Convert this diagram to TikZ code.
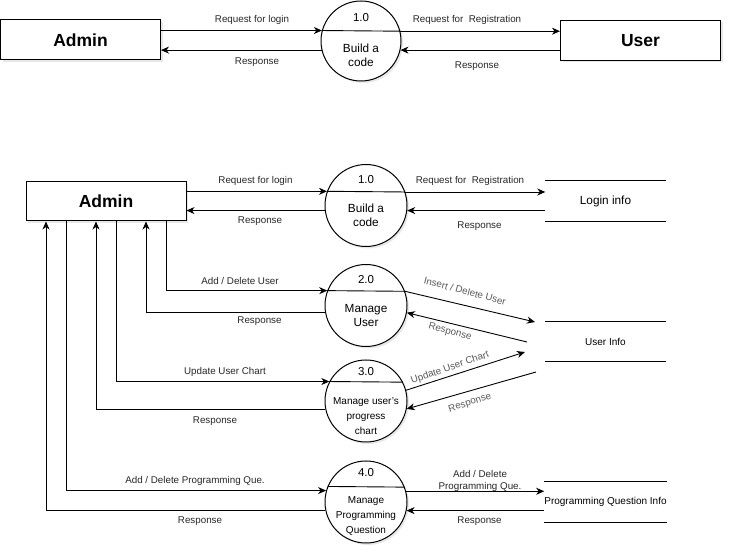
\documentclass[tikz,border=0pt]{standalone}
\usepackage{fontspec}
\setmainfont{Liberation Sans}
\usetikzlibrary{arrows.meta,shadows}
\begin{document}
\begin{tikzpicture}[x=1pt,y=-1pt,
  shd/.style={drop shadow={opacity=0.18,shadow xshift=2pt,shadow yshift=-2pt}},
  ent/.style={draw,line width=1pt,fill=white,shd,minimum width=160pt,minimum height=40pt,
    inner sep=0pt,font=\fontsize{17.5}{20}\selectfont\bfseries},
  proc/.style={draw,circle,line width=1pt,fill=white,shd,minimum size=82pt,inner sep=0pt},
  store/.style={minimum width=120pt,minimum height=40pt,inner sep=0pt},
  arr/.style={line width=0.9pt,-{Stealth[length=8pt,width=7pt,inset=2.5pt]}},
  ln/.style={line width=0.9pt},
  lbl/.style={font=\fontsize{9.8}{12}\selectfont,text=black!85,inner sep=0pt,align=center},
  rlbl/.style={font=\fontsize{9.8}{12}\selectfont,text=black!65,inner sep=0pt},
  num/.style={font=\fontsize{11.5}{14}\selectfont,inner sep=0pt},
  ptxt/.style={font=\fontsize{11.8}{14}\selectfont,inner sep=0pt,align=center},
  stxt/.style={font=\fontsize{10}{15}\selectfont,inner sep=0pt,align=center},
]
\useasboundingbox (0,0) rectangle (732,553);

% ---------------- top diagram ----------------
\node[ent] (admin1) at (80.5,40) {Admin};
\node[ent] (user1) at (640.5,40.5) {User};
\node[proc,minimum size=80pt] (p1) at (361,41) {};
\draw[ln] (p1.165.52) -- (p1.14.48);
\node[num] (p1n) at (361,18) {1.0};
\node[ptxt,font=\fontsize{11.8}{14}\selectfont] (p1t) at (361,55.5) {Build a\\code};

\draw[arr] (admin1.east |- p1.165.52) -- (p1.165.52);
\draw[arr] (p1.193) -- (admin1.east |- p1.193);
\draw[arr] (p1.14.48) -- (user1.west |- p1.14.48);
\draw[arr] (user1.west |- p1.-13) -- (p1.-13);

\node[lbl] (t1) at (252,20) {Request for login};
\node[lbl] (t2) at (257,62) {Response};
\node[lbl] (t3) at (467,20) {Request for~ Registration};
\node[lbl] (t4) at (477,66.5) {Response};

% ---------------- bottom diagram ----------------
\node[ent,minimum height=39pt] (admin2) at (106,201.5) {Admin};

\node[proc] (c1) at (366,205.5) {};
\node[proc] (c2) at (366,305.5) {};
\node[proc] (c3) at (366,401) {};
\node[proc] (c4) at (366,502) {};

\draw[ln] (c1.160.77) -- (c1.19.23);
\draw[ln] (c2.159.29) -- (c2.20.71);
\draw[ln] (c3.152.4) -- (c3.27.6);
\draw[ln] (c4.158.54) -- (c4.21.46);

\node[num] (c1n) at (366,180) {1.0};
\node[ptxt] (c1t) at (366,215.5) {Build a\\code};
\node[num] (c2n) at (366,280) {2.0};
\node[ptxt] (c2t) at (366,315.5) {Manage\\User};
\node[num] (c3n) at (366,372) {3.0};
\node[stxt] (c3t) at (366,416.5) {Manage user's\\progress\\chart};
\node[num] (c4n) at (366,473) {4.0};
\node[stxt] (c4t) at (366,516.5) {Manage\\Programming\\Question};

% data stores
\node[store] (s1) at (605.5,201) {\fontsize{11.8}{14}\selectfont Login info};
\node[store] (s2) at (605.5,341.5) {\fontsize{10}{12}\selectfont User Info};
\node[store] (s3) at (605.5,502) {\fontsize{10}{12}\selectfont Programming Question Info};
\foreach \s in {s1,s2,s3}{
  \draw[ln] (\s.north west) -- (\s.north east);
  \draw[ln] (\s.south west) -- (\s.south east);
}

% x positions of the vertical connectors under Admin
\coordinate (xa) at (166,0);
\coordinate (xb) at (146,0);
\coordinate (xc) at (116,0);
\coordinate (xd) at (96,0);
\coordinate (xe) at (66,0);
\coordinate (xf) at (46,0);

% admin <-> processes
\draw[arr] (admin2.east |- c1.160.77) -- (c1.160.77);
\draw[arr] (c1.187.7) -- (admin2.east |- c1.187.7);
\draw[arr] (admin2.south -| xa) |- (c2.159.29);
\draw[arr] (c2.189.12) -| (admin2.south -| xb);
\draw[arr] (admin2.south -| xc) |- (c3.152.4);
\draw[arr] (c3.192.68) -| (admin2.south -| xd);
\draw[arr] (admin2.south -| xe) |- (c4.164.44);
\draw[arr] (c4.192.68) -| (admin2.south -| xf);

% processes <-> stores
\draw[arr] (c1.19.23) -- (s1.west |- c1.19.23);
\draw[arr] (s1.west |- c1.-7.7) -- (c1.-7.7);

\coordinate (e2a) at (535,322);
\coordinate (e2b) at (527,342);
\draw[arr] (c2.20.71) -- (e2a);
\draw[arr] (e2b) -- (c2.-10.5);

\coordinate (e3a) at (525,352);
\coordinate (e3b) at (536,372);
\draw[arr] (c3.15.56) -- (e3a);
\draw[arr] (e3b) -- (c3.-11.25);

\draw[arr] (c4.15.56) -- (s3.west |- c4.15.56);
\draw[arr] (s3.west |- c4.-12.68) -- (c4.-12.68);

% labels left
\node[lbl] (l1) at (255.5,181) {Request for login};
\node[lbl] (l2) at (260,221) {Response};
\node[lbl] (l3) at (240,281) {Add / Delete User};
\node[lbl] (l4) at (259.5,321) {Response};
\node[lbl] (l5) at (225,372) {Update User Chart};
\node[lbl] (l6) at (215,421) {Response};
\node[lbl] (l7) at (195,481) {Add / Delete Programming Que.};
\node[lbl] (l8) at (200,521) {Response};

% labels right
\node[lbl] (r1) at (470,181) {Request for~ Registration};
\node[lbl] (r2) at (479.5,226.5) {Response};
\node[rlbl,rotate=-15] (r3) at (465,291) {Insert / Delete User};
\node[rlbl,rotate=-15] (r4) at (450,332) {Response};
\node[rlbl,rotate=19] (r5) at (450,368) {Update User Chart};
\node[rlbl,rotate=18] (r6) at (470,403) {Response};
\node[lbl,font=\fontsize{9.8}{12}\selectfont] (r7) at (480,481) {Add / Delete\\Programming Que.};
\node[lbl] (r8) at (479.5,521) {Response};
\end{tikzpicture}
\end{document}
